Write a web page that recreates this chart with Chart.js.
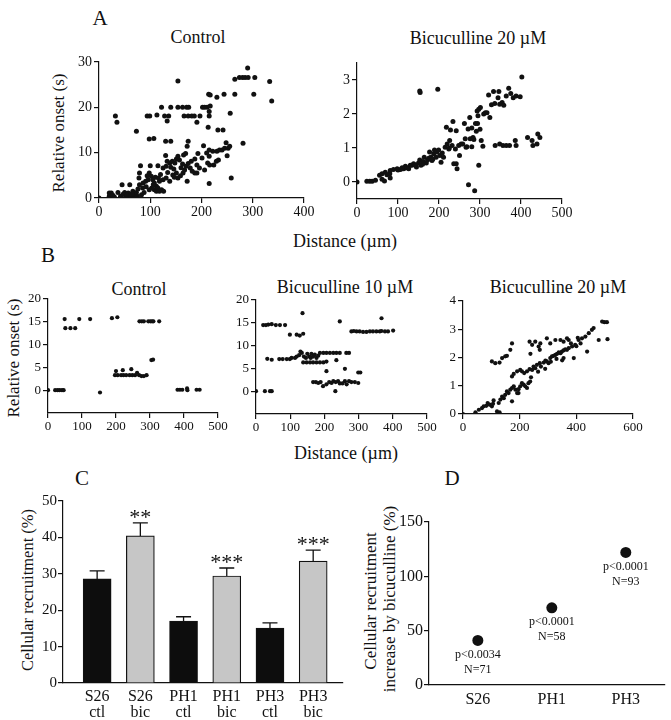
<!DOCTYPE html>
<html>
<head>
<meta charset="utf-8">
<script src="https://cdn.jsdelivr.net/npm/chart.js@4.4.1/dist/chart.umd.min.js"></script>
<style>
  body { margin: 0; background: #fff; }
  #fig { position: relative; width: 671px; height: 720px; overflow: hidden; font-family: "Liberation Serif", serif; color: #111; }
  #fig canvas { position: absolute; }
  .t { position: absolute; white-space: nowrap; transform: translate(-50%, -50%); line-height: 1; }
  .v { transform: translate(-50%, -50%) rotate(-90deg); }
</style>
</head>
<body>
<div id="fig">
  <div class="t" style="left:100px;top:18px;font-size:21px">A</div>
  <div class="t" style="left:198px;top:37px;font-size:18px">Control</div>
  <div class="t" style="left:478px;top:38px;font-size:18px">Bicuculline 20 µM</div>
  <div class="t v" style="left:58px;top:133px;font-size:17px">Relative onset (s)</div>
  <div class="t" style="left:345px;top:241px;font-size:18px">Distance (µm)</div>

  <div class="t" style="left:48px;top:255px;font-size:21px">B</div>
  <div class="t" style="left:139px;top:289px;font-size:18px">Control</div>
  <div class="t" style="left:345px;top:287px;font-size:18px">Bicuculline 10 µM</div>
  <div class="t" style="left:558px;top:287px;font-size:18px">Bicuculline 20 µM</div>
  <div class="t v" style="left:13px;top:358px;font-size:17px">Relative onset (s)</div>
  <div class="t" style="left:346px;top:453px;font-size:18px">Distance (µm)</div>

  <div class="t" style="left:82px;top:478px;font-size:21px">C</div>
  <div class="t v" style="left:28px;top:590px;font-size:16.5px">Cellular recruitment (%)</div>

  <div class="t" style="left:452px;top:478px;font-size:21px">D</div>
  <div class="t v" style="left:370px;top:601px;font-size:17px">Cellular recruitment</div>
  <div class="t v" style="left:389px;top:599px;font-size:17px">increase by bicuculline (%)</div>
</div>
<script>
// ---- data ----
// A: control, distance (um) vs relative onset (s)
const aControl = [
  [32,18.1],[35,16.7],[73,14.7],[154,25.8],[94,18.1],[99,18.1],[113,18.3],[122,20],[128,18.1],[136,18.1],
  [140,20],[133,17],[154,20],[163,20],[171,20],[175,20],[166,18.1],[174,18.1],[181,18.1],[186,18.1],
  [191,16.7],[197,18.1],[202,20],[206,20],[211,20],[217,20.3],[215,19.1],[215,18.1],[214,22.9],[217,22.7],
  [230,22.2],[244,22.9],[256,18.7],[265,22.9],[265,26.2],[274,26.6],[280,26.6],[285,26.6],[291,26.6],[290,28.7],
  [304,26.6],[302,22.9],[333,25.7],[337,21.4],[213,15.6],[232,15],[242,15],[281,12.1],[98,13],[107,13.1],
  [130,12.5],[140,12.5],
  [0,0],[20,1.1],[24,1.1],[20,0.4],[24,0.4],[27,0.6],[30,0.2],[37,1.2],[45,2.9],[50,1.2],
  [57,1.1],[60,2.9],[66,1.5],[42,0.4],[47,0.8],[52,0.3],[55,0.6],[62,0.5],[68,0.3],[70,0.8],
  [73,1.2],[76,2],[79,2.9],[78,4.4],[79,5.5],[81,7.1],[86,3.3],[91,3.7],[96,4],[94,4.9],
  [98,5.5],[102,4.8],[105,4],[108,3.3],[112,2.6],[100,7.1],[115,7.1],[125,6.6],[131,7],[108,1.8],
  [112,1.5],[118,1.5],[115,2.2],[122,1.8],[126,1.5],[118,3.7],[125,4],[131,4.4],[138,3.7],[130,9.4],
  [133,8.1],[138,7.7],[143,8.1],[148,7.7],[151,8.6],[154,9.2],[157,8.4],[144,5.1],[151,5.5],[154,4.4],
  [159,4.9],[164,5.5],[167,6.2],[170,7],[174,7.6],[178,6.6],[182,5.9],[187,5.5],[165,9.5],[169,9.8],
  [172,11.4],[174,12.5],[172,3.7],[180,8.1],[187,8.6],[191,7.3],[196,6.6],[191,5.5],[193,9.8],[201,8.8],
  [204,11.5],[210,9.9],[215,9.2],[206,6.2],[212,7.7],[216,7.3],[224,7.3],[229,8.1],[233,8.4],[215,10.6],
  [222,10.3],[230,10.3],[235,10.6],[240,10.6],[245,11],[252,11],[255,11.4],[248,12.2],[250,9.3],[215,3.2],
  [258,4.4],[85,2.2],[88,1.2],[92,2.5],[98,1.8],[103,2.2],[106,3],[110,4.6],[116,4.4],[120,5.2],
  [134,5.6],[140,6.8],[146,6.4],[160,6.7],[163,7.5],[147,4.6],[83,0.7],[75,0.4],[64,0.9]
];

// A: bicuculline 20 uM
const aBic20 = [
  [0,0],[24,0.02],[31,0.02],[37,0.02],[45,0.05],[55,0.2],[61,0.08],[61,0.24],[67,0.03],[69,0.29],
  [73,0.21],[80,0.24],[81,0.34],[81,0.12],[89,0.37],[98,0.39],[106,0.37],[114,0.39],[118,0.46],[122,0.42],
  [130,0.49],[126,0.39],[134,0.49],[138,0.54],[145,0.44],[150,0.56],[153,0.65],[156,0.49],[161,0.6],[164,0.73],
  [169,0.56],[172,0.65],[177,0.88],[180,0.73],[183,0.63],[187,0.83],[189,0.94],[193,0.73],[195,0.88],[199,0.94],
  [202,0.78],[205,0.58],[211,0.73],[215,1.02],[218,1.61],[220,1.12],[224,0.97],[226,1.22],[228,1.53],[232,1.07],
  [234,1.78],[236,0.54],[240,0.97],[242,0.54],[244,0.39],[242,1.51],[248,1.07],[250,0.78],[254,1.12],[262,1.72],
  [264,1.27],[266,1.02],[268,1.04],[271,1.56],[272,-0.08],[275,1.9],[276,1.27],[280,1.59],[280,1.04],[283,1.31],
  [287,-0.26],[289,1.72],[291,1.49],[293,2.09],[294,1.72],[297,0.49],[297,2.14],[301,2.19],[303,1.22],[307,1.05],
  [309,2.0],[313,2.04],[317,2.04],[324,1.9],[321,2.56],[328,2.27],[333,2.66],[336,2.31],[344,2.48],[346,2.66],
  [348,2.29],[354,2.34],[358,2.26],[364,2.53],[370,2.76],[375,2.6],[381,2.48],[388,2.53],[398,2.51],[402,3.09],
  [337,1.07],[348,1.12],[356,1.07],[364,1.07],[372,1.07],[386,1.22],[388,1.07],[416,1.31],[427,1.22],[429,1.07],
  [439,1.12],[441,1.41],[446,1.31],[154,2.63],[153,2.68],[197,2.73],[100,0.35],[110,0.42],[142,0.5],[160,0.52],
  [175,0.7],[185,0.68],[208,0.85],[225,1.0],[258,1.12],[285,1.25],[300,1.55],[295,1.95]
];

// B: control
const bControl = [
  [0,0],[21,0],[28,0],[34,0],[41,0],[46,0],[49,15.6],[51,13.6],[66,13.6],[80,13.6],
  [92,15.6],[124,15.6],[153,-0.5],[188,15.8],[204,16],[269,15.1],[276,15.1],[282,15.1],[295,15.1],[301,15.1],
  [306,15.1],[310,15.1],[327,15.1],[200,4.2],[197,3.3],[205,3.3],[215,3.3],[222,3.3],[230,3.3],[240,3.3],
  [248,3.3],[256,3.3],[220,4.4],[245,4.6],[262,3.8],[268,3.3],[275,3.1],[282,3.1],[290,3.3],[304,6.6],
  [309,6.7],[381,0.1],[388,0.1],[395,0.1],[409,0.4],[410,0],[437,0.1],[446,0.1]
];

// B: bicuculline 10 uM
const bBic10 = [
  [0,0],[26,0],[41,0],[46,0],[21,14.5],[29,14.5],[36,14.6],[46,14.7],[58,14.5],[70,14.5],
  [85,14.5],[99,12.4],[119,12.4],[128,12.2],[138,12.6],[136,17.1],[33,7.1],[46,6.9],[68,7.05],[78,7.05],
  [90,7.05],[99,7.05],[104,7.3],[114,7.3],[119,7.6],[126,7.9],[130,8.7],[134,8.4],[140,7.6],[146,7.3],
  [150,8.2],[156,7.6],[160,7.3],[162,8.2],[167,7.6],[172,8.0],[177,7.3],[182,7.8],[138,6.3],[148,6.3],
  [158,6.3],[167,6.3],[177,6.3],[187,6.3],[197,6.3],[206,6.5],[187,8.4],[197,8.4],[206,8.4],[216,8.4],
  [226,8.4],[235,8.4],[245,8.4],[264,8.4],[272,8.4],[235,6.8],[260,4.9],[206,4.4],[167,2],[175,2],
  [182,1.8],[189,2],[196,1.1],[206,1.5],[214,2],[221,1.8],[226,2.2],[233,2],[240,2.2],[245,1.7],
  [253,1.7],[260,2.2],[265,1.5],[272,2.2],[279,2],[289,2],[299,1.8],[232,0],[299,4.1],[305,4.1],
  [245,15.3],[279,13.1],[286,13.2],[294,13.1],[303,13.1],[313,13],[323,13],[333,13.1],[342,13.1],[352,13.1],
  [362,13.1],[367,13.2],[377,13.1],[386,13.1],[401,13.3],[367,16]
];

// B: bicuculline 20 uM
const bBic20 = [
  [0,0],[44,0.06],[56,0.15],[67,0.21],[73,0.27],[82,0.29],[87,0.39],[94,0.33],[102,0.27],[106,0.36],
  [108,0.48],[120,0.09],[129,0.06],[126,0.39],[132,0.51],[138,0.62],[144,0.56],[149,0.68],[155,0.8],[161,0.74],
  [167,0.86],[173,0.92],[179,0.98],[185,0.86],[191,0.74],[196,0.88],[202,0.98],[208,1.09],[214,1.04],[220,0.98],
  [226,0.92],[231,1.09],[237,1.15],[102,1.86],[114,1.8],[129,1.82],[138,1.98],[149,2.04],[155,2.06],[167,2.27],
  [173,2.5],[173,1.33],[179,1.42],[191,1.51],[202,1.56],[208,1.51],[216,1.45],[226,1.51],[235,1.59],[244,1.56],
  [249,1.68],[255,1.62],[261,1.74],[271,1.8],[275,1.68],[285,1.82],[291,1.89],[296,1.86],[302,1.8],[308,1.98],
  [314,2.04],[320,2.06],[326,2.09],[332,2.13],[338,2.18],[344,2.15],[349,2.21],[355,2.25],[361,2.29],[367,2.27],
  [373,2.33],[385,2.39],[396,2.45],[408,2.62],[420,2.68],[432,2.74],[444,2.86],[455,2.98],[461,3.04],[491,3.27],
  [499,3.25],[508,3.25],[235,2.56],[244,2.45],[255,2.56],[267,2.39],[273,2.5],[296,2.68],[308,2.5],[326,2.62],
  [344,2.62],[355,2.56],[367,2.68],[373,2.62],[381,2.5],[238,2.13],[271,2.27],[355,1.98],[391,1.98],[438,2.21],
  [479,2.62],[173,0.45],[196,0.74],[510,2.65],[400,2.4],[405,2.7],[415,2.5],[350,1.9],[330,1.95],[310,1.85],
  [290,1.6],[265,1.5],[240,1.3]
];

// C: cellular recruitment (%)
const cLabels = [["S26", "ctl"], ["S26", "bic"], ["PH1", "ctl"], ["PH1", "bic"], ["PH3", "ctl"], ["PH3", "bic"]];
const cValues = [28.6, 40.4, 17.0, 29.4, 15.1, 33.5];
const cErrors = [2.2, 3.6, 1.2, 2.2, 1.4, 3.0];
const cStars = ["", "**", "", "***", "", "***"];

// D: increase by bicuculline (%)
const dLabels = ["S26", "PH1", "PH3"];
const dValues = [41, 71, 122];
const dPvals = ["p<0.0034", "p<0.0001", "p<0.0001"];
const dNs = ["N=71", "N=58", "N=93"];

// ---- layout helpers ----
const SERIF = '"Liberation Serif", "Times New Roman", serif';
const INK = "#111";
const PAD_L = 46, PAD_T = 12, PAD_R = 16, PAD_B = 40;

function makeCanvas(rect) {
  const c = document.createElement("canvas");
  const w = rect.r - rect.l + PAD_L + PAD_R;
  const h = rect.b - rect.t + PAD_T + PAD_B;
  c.width = w;
  c.height = h;
  c.style.left = rect.l - PAD_L + "px";
  c.style.top = rect.t - PAD_T + "px";
  c.style.width = w + "px";
  c.style.height = h + "px";
  document.getElementById("fig").appendChild(c);
  return c.getContext("2d");
}

function axis(min, max, tickVals, fontSize, marks, fitProp, fitVal, pad) {
  return {
    type: "linear",
    min: min,
    max: max,
    offset: false,
    afterBuildTicks: (s) => { s.ticks = tickVals.map((v) => ({ value: v })); },
    afterFit: (s) => { s[fitProp] = fitVal; },
    border: { display: true, color: INK, width: 1.2 },
    grid: { display: true, offset: false, drawOnChartArea: false, drawTicks: marks, tickLength: 5, color: INK, lineWidth: 1.2 },
    ticks: { color: INK, font: { family: SERIF, size: fontSize }, padding: pad, maxRotation: 0, autoSkip: false },
  };
}

function baseOptions(xAxis, yAxis) {
  return {
    responsive: false,
    animation: false,
    devicePixelRatio: 1,
    layout: { padding: { left: 0, top: PAD_T, right: PAD_R, bottom: 0 } },
    plugins: { legend: { display: false }, tooltip: { enabled: false } },
    scales: { x: xAxis, y: yAxis },
  };
}

function scatterPanel(rect, pts, xr, yr, xTicks, yTicks, fontSize, radius) {
  const ctx = makeCanvas(rect);
  new Chart(ctx, {
    type: "scatter",
    data: {
      datasets: [{
        data: pts.map((p) => ({ x: p[0], y: p[1] })),
        pointRadius: radius,
        pointBackgroundColor: INK,
        pointBorderWidth: 0,
      }],
    },
    options: baseOptions(
      axis(xr[0], xr[1], xTicks, fontSize, true, "height", PAD_B, 1),
      axis(yr[0], yr[1], yTicks, fontSize, true, "width", PAD_L, 2)
    ),
  });
}

// ---- panel A ----
scatterPanel({ l: 99, r: 304, t: 62, b: 198 }, aControl, [0, 400], [0, 30],
  [0, 100, 200, 300, 400], [0, 10, 20, 30], 14, 2.5);
scatterPanel({ l: 357, r: 562, t: 63, b: 199 }, aBic20, [0, 500], [-0.5, 3.5],
  [0, 100, 200, 300, 400, 500], [0, 1, 2, 3], 14, 2.5);

// ---- panel B ----
scatterPanel({ l: 48, r: 218, t: 299, b: 413 }, bControl, [0, 500], [-5, 20],
  [0, 100, 200, 300, 400, 500], [0, 5, 10, 15, 20], 13, 2.1);
scatterPanel({ l: 256, r: 427, t: 300, b: 414 }, bBic10, [0, 500], [-5, 20],
  [0, 100, 200, 300, 400, 500], [0, 5, 10, 15, 20], 13, 2.1);
scatterPanel({ l: 463, r: 633, t: 301, b: 414 }, bBic20, [0, 600], [0, 4],
  [0, 200, 400, 600], [0, 1, 2, 3, 4], 13, 2.1);

// ---- panel C ----
const errorBars = {
  id: "errorBars",
  afterDatasetsDraw(chart) {
    const ctx = chart.ctx;
    const ys = chart.scales.y;
    chart.getDatasetMeta(0).data.forEach((bar, i) => {
      const top = ys.getPixelForValue(cValues[i] + cErrors[i]);
      ctx.save();
      ctx.strokeStyle = INK;
      ctx.lineWidth = 1.3;
      ctx.beginPath();
      ctx.moveTo(bar.x, bar.y);
      ctx.lineTo(bar.x, top);
      ctx.moveTo(bar.x - 7.5, top);
      ctx.lineTo(bar.x + 7.5, top);
      ctx.stroke();
      if (cStars[i]) {
        ctx.fillStyle = INK;
        ctx.font = "22px " + SERIF;
        ctx.textAlign = "center";
        ctx.textBaseline = "alphabetic";
        ctx.fillText(cStars[i], bar.x, top + 1);
      }
      ctx.restore();
    });
  },
};

(function () {
  const rect = { l: 63, r: 343, t: 501, b: 683 };
  const ctx = makeCanvas(rect);
  const xAxis = axis(-0.79, 5.69, [0, 1, 2, 3, 4, 5], 16, false, "height", PAD_B, 5);
  xAxis.ticks.callback = (v) => cLabels[v];
  xAxis.ticks.font.lineHeight = 1.05;
  new Chart(ctx, {
    type: "bar",
    data: {
      datasets: [{
        data: cValues.map((v, i) => ({ x: i, y: v })),
        backgroundColor: cValues.map((v, i) => (i % 2 ? "#c6c6c6" : "#0d0d0d")),
        borderColor: INK,
        borderWidth: 1.2,
        borderSkipped: "bottom",
        barThickness: 28,
      }],
    },
    options: baseOptions(xAxis, axis(0, 50, [0, 10, 20, 30, 40, 50], 15, true, "width", PAD_L, 1)),
    plugins: [errorBars],
  });
})();

// ---- panel D ----
const pointNotes = {
  id: "pointNotes",
  afterDatasetsDraw(chart) {
    const ctx = chart.ctx;
    ctx.save();
    ctx.fillStyle = INK;
    ctx.font = "12px " + SERIF;
    ctx.textAlign = "center";
    ctx.textBaseline = "middle";
    chart.getDatasetMeta(0).data.forEach((pt, i) => {
      ctx.fillText(dPvals[i], pt.x, pt.y + 14);
      ctx.fillText(dNs[i], pt.x, pt.y + 29);
    });
    ctx.restore();
  },
};

(function () {
  const rect = { l: 429, r: 665, t: 522, b: 685 };
  const ctx = makeCanvas(rect);
  const xAxis = axis(-0.66, 2.53, [0, 1, 2], 16, false, "height", PAD_B, 5);
  xAxis.ticks.callback = (v) => dLabels[v];
  new Chart(ctx, {
    type: "scatter",
    data: {
      datasets: [{
        data: dValues.map((v, i) => ({ x: i, y: v })),
        pointRadius: 5.5,
        pointBackgroundColor: INK,
        pointBorderWidth: 0,
      }],
    },
    options: baseOptions(xAxis, axis(0, 150, [0, 50, 100, 150], 16, true, "width", PAD_L, 1)),
    plugins: [pointNotes],
  });
})();
</script>
</body>
</html>
